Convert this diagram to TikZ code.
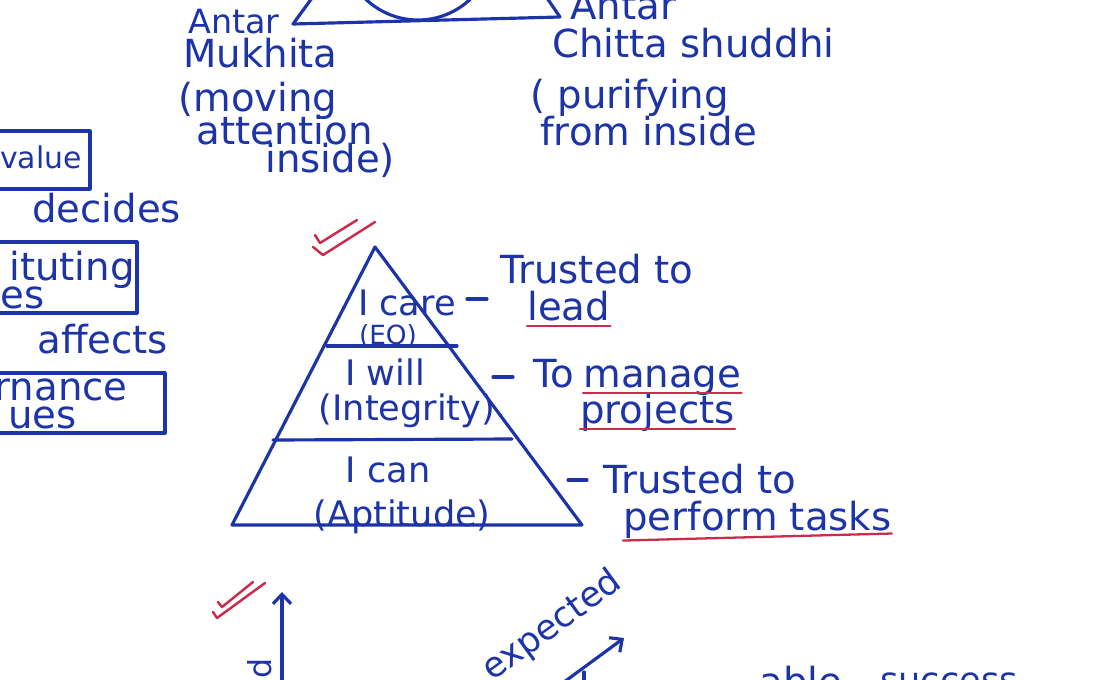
\documentclass[tikz,border=0pt]{standalone}
\usepackage{fontspec}
\setmainfont{DejaVu Sans}
\usepackage{xcolor}
\usepackage{tikz}
\usetikzlibrary{arrows.meta, positioning}
\definecolor{ink}{RGB}{28,52,168}
\definecolor{redink}{RGB}{204,44,76}

\begin{document}
\begin{tikzpicture}[x=0.02cm,y=-0.02cm]
\tikzset{
  hw/.style={text=ink,inner sep=0pt,anchor=base west,font=\fontsize{22}{26}\selectfont},
  hp/.style={text=ink,inner sep=0pt,anchor=base,font=\fontsize{20}{24}\selectfont},
  ln/.style={draw=ink,line width=1.8pt,line cap=round,line join=round},
  ar/.style={ln,-{Straight Barb[length=1.9mm,width=3.6mm]}},
  ck/.style={draw=redink,line width=1.4pt,line cap=round,line join=round},
  ul/.style={draw=redink,line width=1.3pt,line cap=round}
}
\clip (0,0) rectangle (1100,680);
\fill[white] (0,0) rectangle (1100,680);
% top sketch, cut by the page edge
\draw[ln] (312,-2) -- (293,24) -- (560,17) -- (547,-2);
\draw[ln] (418,-56) circle[radius=76];
\node[hw,font=\fontsize{19}{22}\selectfont] (antl) at (188,33) {Antar};
\node[hw] (mukh) at (183,67) {Mukhita};
\node[hw] (movg) at (178,111) {(moving};
\node[hw] (attn) at (196,144) {attention};
\node[hw] (insd) at (265,172) {inside)};
\node[hw] (antr) at (570,19) {Antar};
\node[hw] (chit) at (552,57) {Chitta shuddhi};
\node[hw] (purf) at (530,108) {( purifying};
\node[hw] (from) at (540,145) {from inside};
% left boxes
\draw[ln] (-5,131) rectangle (90,189);
\node[hw,anchor=base east,font=\fontsize{17}{20}\selectfont] (valu) at (82,168) {value};
\node[hw] (dcds) at (32,222) {decides};
\draw[ln] (-5,242) rectangle (137,313);
\node[hw,anchor=base east] (cst1) at (135,280) {ituting};
\node[hw,anchor=base east] (cst2) at (45,308) {es};
\node[hw] (affc) at (37,353) {affects};
\draw[ln] (-5,373) rectangle (165,433);
\node[hw,anchor=base east] (gov1) at (128,400) {rnance};
\node[hw,anchor=base east] (gov2) at (77,428) {ues};
% pyramid
\coordinate (apx) at (375,247);
\coordinate (pbl) at (232,525);
\coordinate (pbr) at (582,525);
\draw[ln] (apx) -- (pbl) -- (pbr) -- cycle;
\draw[ln] (327,346) -- (457,346);
\draw[ln] (273,440) -- (512,439);
\node[hp] (care) at (407,315) {I care};
\node[hp,font=\fontsize{15}{18}\selectfont] (eq) at (388,344) {(EQ)};
\node[hp] (will) at (385,385) {I will};
\node[hp] (intg) at (407,420) {(Integrity)};
\node[hp] (can) at (388,482) {I can};
\node[hp] (aptd) at (402,526) {(Aptitude)};
\draw[ln] (467,299) -- (487,299);
\draw[ln] (493,377) -- (513,377);
\draw[ln] (568,480) -- (587,480);
\node[hw] (trs1) at (500,283) {Trusted to};
\node[hw] (lead) at (527,320) {lead};
\node[hw] (to) at (533,387) {To};
\node[hw] (mang) at (583,387) {manage};
\node[hw] (proj) at (580,423) {projects};
\node[hw] (trs2) at (603,493) {Trusted to};
\node[hw] (perf) at (623,530) {perform tasks};
\foreach \n in {lead,mang,proj}{\draw[ul] ([yshift=-3.5pt]\n.base west) -- ([yshift=-3.5pt]\n.base east);}
\draw[ul] ([yshift=-6pt]perf.base west) -- ([yshift=-2pt]perf.base east);
% ticks
\draw[ck] (315,235) -- (320,243) -- (357,220);
\draw[ck] (313,247) -- (323,255) -- (375,222);
\draw[ck] (218,602) -- (222,607) -- (253,582);
\draw[ck] (213,612) -- (217,618) -- (265,583);
% bottom graph
\coordinate (vax) at (282,700);
\coordinate (vtp) at (282,592);
\draw[ar] (vax) -- (vtp);
\node[hw,anchor=center,rotate=90,font=\fontsize{18}{20}\selectfont] (ylab) at (260,668) {d};
\node[hw,rotate=36,font=\fontsize{20}{24}\selectfont] (expc) at (492,682) {expected};
\coordinate (dgs) at (545,696);
\coordinate (dge) at (624,638);
\draw[ar] (dgs) -- (dge);
\draw[ln] (584,672) -- (584,690);
\node[hw] (able) at (759,695) {able};
\node[hw,font=\fontsize{20}{24}\selectfont] (succ) at (880,692) {success};
\end{tikzpicture}
\end{document}
